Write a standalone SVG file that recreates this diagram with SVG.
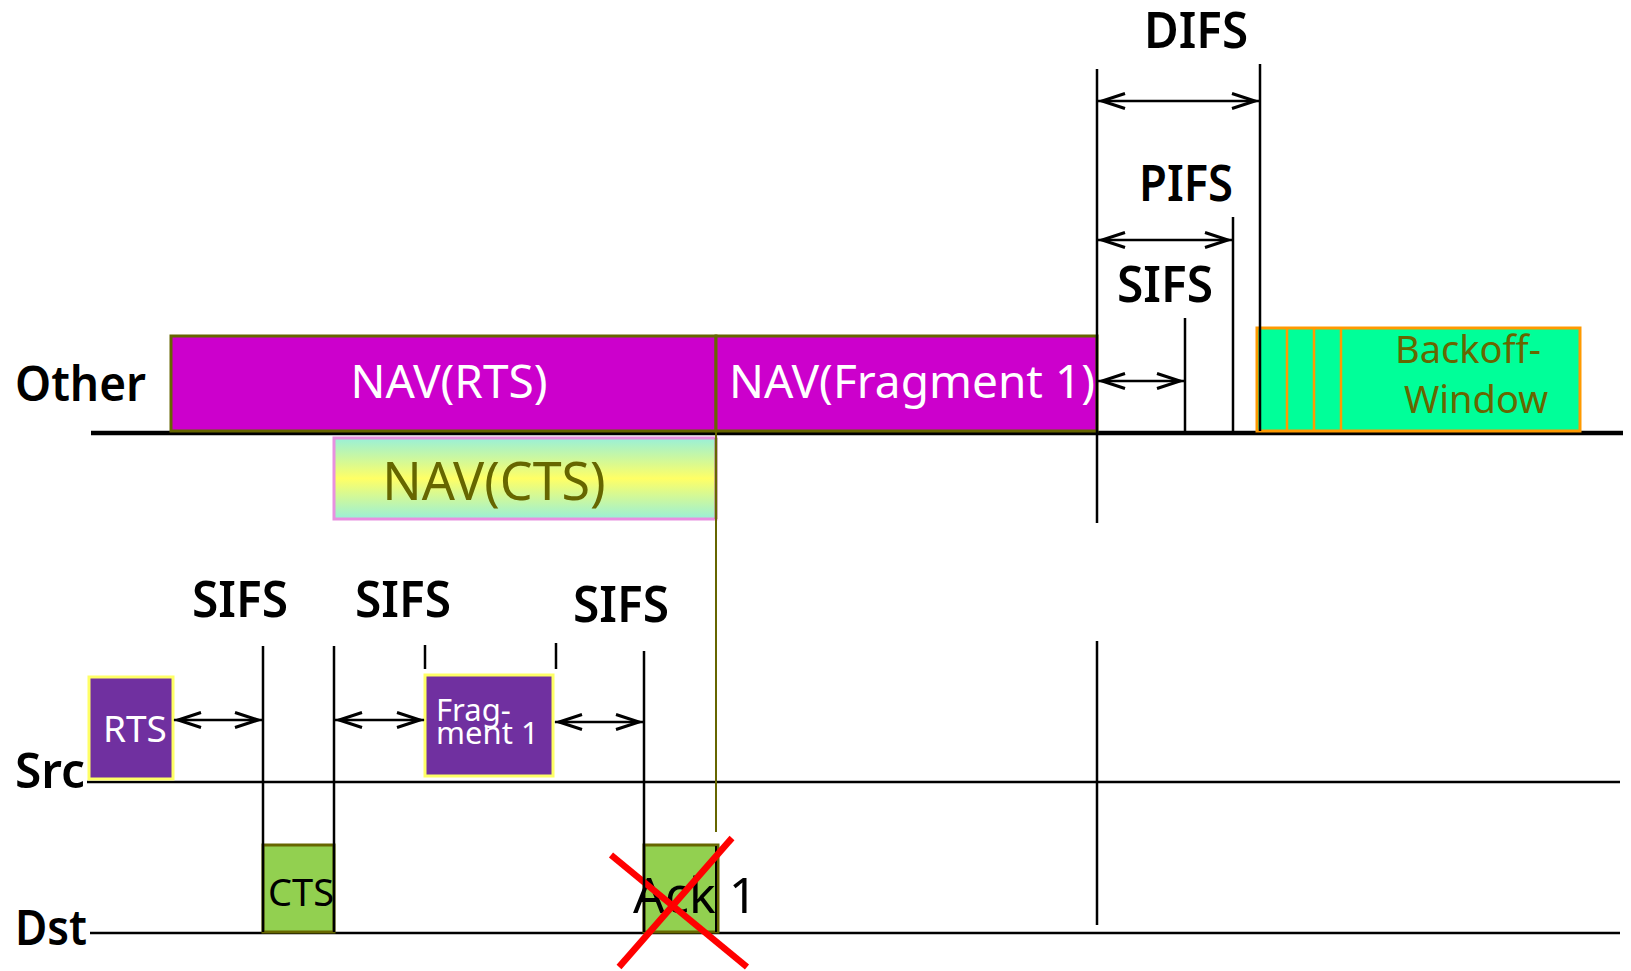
<svg xmlns="http://www.w3.org/2000/svg" width="1631" height="971" viewBox="0 0 1631 971">
<defs>
<linearGradient id="ctsGrad" x1="0" y1="0" x2="0" y2="1">
<stop offset="0" stop-color="#99F0D8"/>
<stop offset="0.5" stop-color="#FFFF66"/>
<stop offset="1" stop-color="#99F0D8"/>
</linearGradient>
<marker id="arr" markerUnits="userSpaceOnUse" orient="auto-start-reverse" refX="0" refY="0" markerWidth="40" markerHeight="40" viewBox="-30 -15 40 30" overflow="visible">
<path d="M-27,-7.5 L-4,0 L-27,7.5" fill="none" stroke="#000" stroke-width="3" stroke-linejoin="miter"/>
</marker>
</defs>
<style>
text{font-family:"Noto Sans","Open Sans","DejaVu Sans",sans-serif;}
.lbl{font-size:50px;fill:#000;font-weight:600;}
.axis{font-size:49px;fill:#000;font-weight:600;}
.vl{stroke:#000;stroke-width:2.5;fill:none;}
.arrow{stroke:#000;stroke-width:2.5;fill:none;marker-start:url(#arr);marker-end:url(#arr);}
.nav{fill:#CC00CC;stroke:#666600;stroke-width:3;}
.navt{font-size:46px;fill:#fff;}
.purple{fill:#7030A0;stroke:#FFFF66;stroke-width:3;}
.green{fill:#92D050;stroke:#666600;stroke-width:3;}
</style>
<rect width="1631" height="971" fill="#fff"/>

<g id="timelines">
<line x1="91" y1="433" x2="1623" y2="433" stroke="#000" stroke-width="4.5"/>
<line x1="87" y1="782" x2="1620" y2="782" stroke="#000" stroke-width="2.5"/>
<line x1="90" y1="933" x2="1620" y2="933" stroke="#000" stroke-width="2.5"/>
<text class="axis" x="15" y="401" textLength="131" lengthAdjust="spacingAndGlyphs">Other</text>
<text class="axis" x="15" y="788" textLength="70" lengthAdjust="spacingAndGlyphs">Src</text>
<text class="axis" x="15" y="945" textLength="72" lengthAdjust="spacingAndGlyphs">Dst</text>
</g>

<g id="nav-rts">
<rect class="nav" x="171" y="336" width="545" height="95"/>
<text class="navt" x="449" y="398" text-anchor="middle">NAV(RTS)</text>
</g>
<g id="nav-frag">
<rect class="nav" x="716" y="336" width="381" height="95"/>
<text class="navt" x="912" y="398" text-anchor="middle">NAV(Fragment 1)</text>
</g>
<g id="nav-cts">
<rect x="334" y="438" width="382" height="81" fill="url(#ctsGrad)" stroke="#E890E0" stroke-width="3"/>
<line x1="716" y1="438" x2="716" y2="519" stroke="#666600" stroke-width="2.5"/>
<text x="494" y="500" text-anchor="middle" font-size="52" fill="#666600">NAV(CTS)</text>
</g>

<g id="backoff">
<rect x="1257" y="328" width="323" height="103" fill="#00FF99" stroke="#FF9900" stroke-width="3"/>
<line x1="1287" y1="328" x2="1287" y2="431" stroke="#FF9900" stroke-width="2.5"/>
<line x1="1314" y1="328" x2="1314" y2="431" stroke="#FF9900" stroke-width="2.5"/>
<line x1="1341" y1="328" x2="1341" y2="431" stroke="#FF9900" stroke-width="2.5"/>
<text x="1468" y="363" text-anchor="middle" font-size="38" fill="#666600">Backoff-</text>
<text x="1476" y="413" text-anchor="middle" font-size="38" fill="#666600">Window</text>
</g>

<g id="rts">
<rect class="purple" x="89" y="677" width="84" height="102"/>
<text x="103" y="742" font-size="37" fill="#fff">RTS</text>
</g>
<g id="fragment1">
<rect class="purple" x="425" y="675" width="128" height="101"/>
<text x="436" y="721" font-size="31" fill="#fff">Frag-</text>
<text x="436" y="744" font-size="31" fill="#fff">ment 1</text>
</g>
<g id="cts">
<rect class="green" x="263" y="845" width="71" height="87"/>
<text x="268" y="906" font-size="38" fill="#000">CTS</text>
</g>
<g id="ack1">
<rect class="green" x="644" y="845" width="74" height="87"/>
<line x1="716" y1="846" x2="716" y2="932" stroke="#000" stroke-width="2"/>
<text x="633" y="913" font-size="50" fill="#000">Ack 1</text>
<line x1="611" y1="855" x2="747" y2="967" stroke="#FF0000" stroke-width="6.5"/>
<line x1="732" y1="838" x2="619" y2="967" stroke="#FF0000" stroke-width="6.5"/>
</g>

<g id="connectors">
<line class="vl" x1="1097" y1="69" x2="1097" y2="523"/>
<line class="vl" x1="1097" y1="641" x2="1097" y2="925"/>
<line class="vl" x1="1260" y1="64" x2="1260" y2="431"/>
<line class="vl" x1="1233" y1="217" x2="1233" y2="431"/>
<line class="vl" x1="1185" y1="318" x2="1185" y2="431"/>
<line class="arrow" x1="1098" y1="101" x2="1259" y2="101"/>
<line class="arrow" x1="1098" y1="240" x2="1232" y2="240"/>
<line class="arrow" x1="1098" y1="381" x2="1184" y2="381"/>
<text class="lbl" x="1144" y="48" textLength="104" lengthAdjust="spacingAndGlyphs">DIFS</text>
<text class="lbl" x="1139" y="201" textLength="94" lengthAdjust="spacingAndGlyphs">PIFS</text>
<text class="lbl" x="1117" y="302" textLength="96" lengthAdjust="spacingAndGlyphs">SIFS</text>

<line class="vl" x1="263" y1="646" x2="263" y2="932"/>
<line class="vl" x1="334" y1="646" x2="334" y2="932"/>
<line class="vl" x1="425" y1="645" x2="425" y2="669"/>
<line class="vl" x1="556" y1="643" x2="556" y2="669"/>
<line class="vl" x1="644" y1="651" x2="644" y2="932"/>
<line x1="716" y1="431" x2="716" y2="832" stroke="#666600" stroke-width="2"/>
<line class="arrow" x1="174" y1="720" x2="262" y2="720"/>
<line class="arrow" x1="335" y1="720" x2="424" y2="720"/>
<line class="arrow" x1="555" y1="722" x2="643" y2="722"/>
<text class="lbl" x="192" y="617" textLength="96" lengthAdjust="spacingAndGlyphs">SIFS</text>
<text class="lbl" x="355" y="617" textLength="96" lengthAdjust="spacingAndGlyphs">SIFS</text>
<text class="lbl" x="573" y="622" textLength="96" lengthAdjust="spacingAndGlyphs">SIFS</text>
</g>
</svg>
